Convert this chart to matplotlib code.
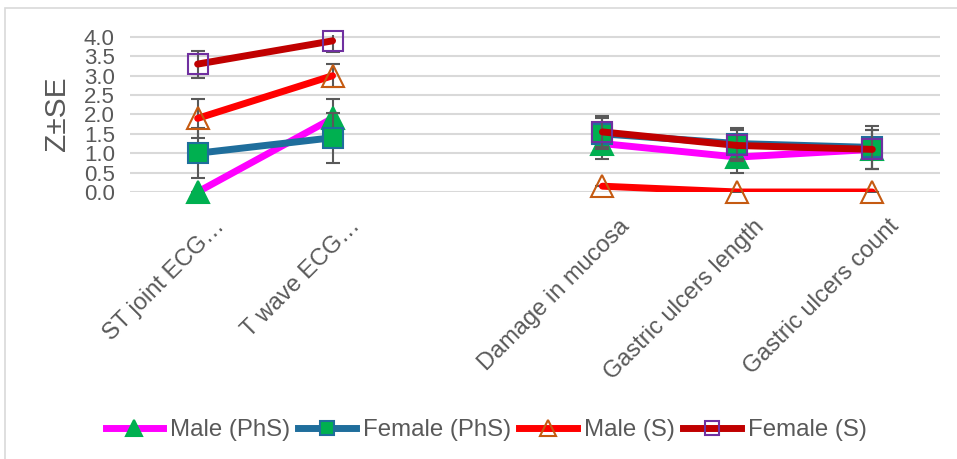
import numpy as np
import matplotlib.pyplot as plt
import matplotlib.transforms as mtransforms
from matplotlib.patches import Rectangle

plt.rcParams['font.family'] = ['Liberation Sans', 'DejaVu Sans']

# categories (empty slot separates the ECG and gastric groups)
categories = ['ST joint ECG…', 'T wave ECG…', '', 'Damage in mucosa',
              'Gastric ulcers length', 'Gastric ulcers count']

male_phs = [0.0, 1.9, np.nan, 1.25, 0.9, 1.1]
male_phs_se = [0.0, 0.5, np.nan, 0.4, 0.4, 0.5]
female_phs = [1.0, 1.4, np.nan, 1.5, 1.25, 1.15]
female_phs_se = [0.65, 0.65, np.nan, 0.4, 0.4, 0.55]
male_s = [1.9, 3.0, np.nan, 0.15, 0.0, 0.0]
male_s_se = [0.5, 0.3, np.nan, 0.0, 0.0, 0.0]
female_s = [3.3, 3.9, np.nan, 1.55, 1.2, 1.1]
female_s_se = [0.35, 0.3, np.nan, 0.4, 0.4, 0.5]

fig = plt.figure(figsize=(9.57, 4.59), dpi=100)
ax = fig.add_axes([0.136, 0.5817, 0.846, 0.342])

x = np.arange(len(categories))

series = [
    ('Male (PhS)', male_phs, male_phs_se, '#FF00FF', '^', '#00B050', '#00B050', 16),
    ('Female (PhS)', female_phs, female_phs_se, '#1F6E9C', 's', '#00B050', '#1F6E9C', 14),
    ('Male (S)', male_s, male_s_se, '#FF0000', '^', 'white', '#C55A11', 16),
    ('Female (S)', female_s, female_s_se, '#C00000', 's', 'white', '#7030A0', 14),
]

for i, (name, vals, se, col, mk, fc, ec, ms) in enumerate(series):
    vals = np.array(vals, dtype=float)
    se = np.array(se, dtype=float)
    ok = ~np.isnan(vals)
    # error bars
    ax.errorbar(x[ok], vals[ok], yerr=se[ok], fmt='none', ecolor='#595959',
                elinewidth=1.5, capsize=5, capthick=1.5, zorder=2 + i * 3)
    # each group drawn as its own segment
    for grp in ([0, 1], [3, 4, 5]):
        ax.plot(x[grp], vals[grp], color=col, lw=5, solid_capstyle='round',
                zorder=3 + i * 3)
    if fc == 'white':
        fc = 'none'
    ax.plot(x[ok], vals[ok], ls='none', marker=mk, ms=ms, mfc=fc, mec=ec,
            mew=1.5, zorder=4 + i * 3, clip_on=False)
    # legend proxy
    ax.plot([], [], color=col, lw=5, marker=mk, ms=ms * 0.72, mfc=fc, mec=ec,
            mew=1.5, label=name)

ax.set_xlim(-0.5, 5.5)
ax.set_ylim(0, 4.05)
ax.set_yticks(np.arange(0, 4.01, 0.5))
ax.set_yticklabels([f'{v:.1f}' for v in np.arange(0, 4.01, 0.5)])
ax.set_xticks(x)
ax.set_xticklabels(categories, rotation=45, ha='right', rotation_mode='anchor')
ax.tick_params(axis='x', length=0, labelsize=17, labelcolor='#595959', pad=14)
ax.tick_params(axis='y', length=0, labelsize=16, labelcolor='#595959', pad=11)
# nudge the slanted category labels to the right of their tick
shift = mtransforms.ScaledTranslation(16 / 100, -4 / 100, fig.dpi_scale_trans)
for lbl in ax.get_xticklabels():
    lbl.set_transform(lbl.get_transform() + shift)
ax.grid(axis='y', color='#D9D9D9', lw=1.5)
ax.set_axisbelow(True)
for s in ax.spines.values():
    s.set_visible(False)
ax.set_ylabel('Z±SE', fontsize=21.5, color='#595959', labelpad=9)

fig.legend(loc='center', bbox_to_anchor=(0.508, 0.063), ncol=4, frameon=False,
           fontsize=17.3, handlelength=2.4, handletextpad=0.3, columnspacing=0.33,
           labelcolor='#595959')

# outer chart border
fig.patches.append(Rectangle((5 / 957, -0.1), 1.2, (459 - 8) / 459 + 0.1,
                             transform=fig.transFigure, fill=False,
                             edgecolor='#D9D9D9', lw=1.2))

fig.savefig('out.png', dpi=100)
